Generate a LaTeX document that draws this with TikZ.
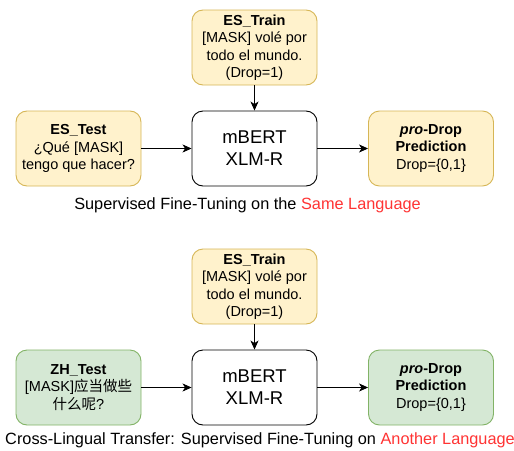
\documentclass[tikz,border=0pt]{standalone}
\usepackage{fontspec}
\setmainfont{Liberation Sans}
\newfontfamily\cjk{Noto Sans CJK SC}
\usetikzlibrary{arrows.meta}
\definecolor{yfill}{HTML}{FFF2CC}
\definecolor{ydraw}{HTML}{D6B656}
\definecolor{gfill}{HTML}{D5E8D4}
\definecolor{gdraw}{HTML}{82B366}
\definecolor{hl}{HTML}{FF3333}
\begin{document}
\begin{tikzpicture}[x=1pt,y=-1pt,
  box/.style={rounded corners=11pt,minimum width=125pt,minimum height=75pt,align=center,inner sep=0pt,font=\fontsize{14.5}{17.5}\selectfont,line width=0.9pt},
  ybox/.style={box,fill=yfill,draw=ydraw},
  gbox/.style={box,fill=gfill,draw=gdraw},
  mbox/.style={box,fill=white,draw=black,font=\fontsize{18.5}{22}\selectfont},
  captext/.style={font=\fontsize{16.3}{19}\selectfont,inner sep=0pt},
  arr/.style={-{Stealth[length=9pt,width=8pt,inset=2.5pt]},line width=0.9pt}]
\useasboundingbox (0,0) rectangle (514,450);
% top
\node[ybox] (tr1) at (254.5,47.5) {\textbf{ES\_Train}\\{}[MASK] volé por\\todo el mundo.\\(Drop=1)};
\node[ybox] (te1) at (78.5,148.5) {\textbf{ES\_Test}\\¿Qué [MASK]\\tengo que hacer?};
\node[mbox] (m1) at (254.5,148.5) {mBERT\\XLM-R};
\node[ybox] (p1) at (431,148.5) {\textbf{\textit{pro}-Drop}\\\textbf{Prediction}\\Drop=\{0,1\}};
\node[captext] (c1) at (247.5,205) {Supervised Fine-Tuning on the \textcolor{hl}{Same Language}};
\draw[arr] (tr1) -- (m1);
\draw[arr] (te1) -- (m1);
\draw[arr] (m1) -- (p1);
% bottom
\node[ybox] (tr2) at (254.5,286.5) {\textbf{ES\_Train}\\{}[MASK] volé por\\todo el mundo.\\(Drop=1)};
\node[gbox] (te2) at (78.5,387.5) {\textbf{ZH\_Test}\\{}[MASK]{\cjk 应当做些}\\{\cjk 什么呢}?};
\node[mbox] (m2) at (254.5,387.5) {mBERT\\XLM-R};
\node[gbox] (p2) at (431,387.5) {\textbf{\textit{pro}-Drop}\\\textbf{Prediction}\\Drop=\{0,1\}};
\node[captext] (c2) at (260,440) {Cross-Lingual Transfer: Supervised Fine-Tuning on \textcolor{hl}{Another Language}};
\draw[arr] (tr2) -- (m2);
\draw[arr] (te2) -- (m2);
\draw[arr] (m2) -- (p2);
\end{tikzpicture}
\end{document}
